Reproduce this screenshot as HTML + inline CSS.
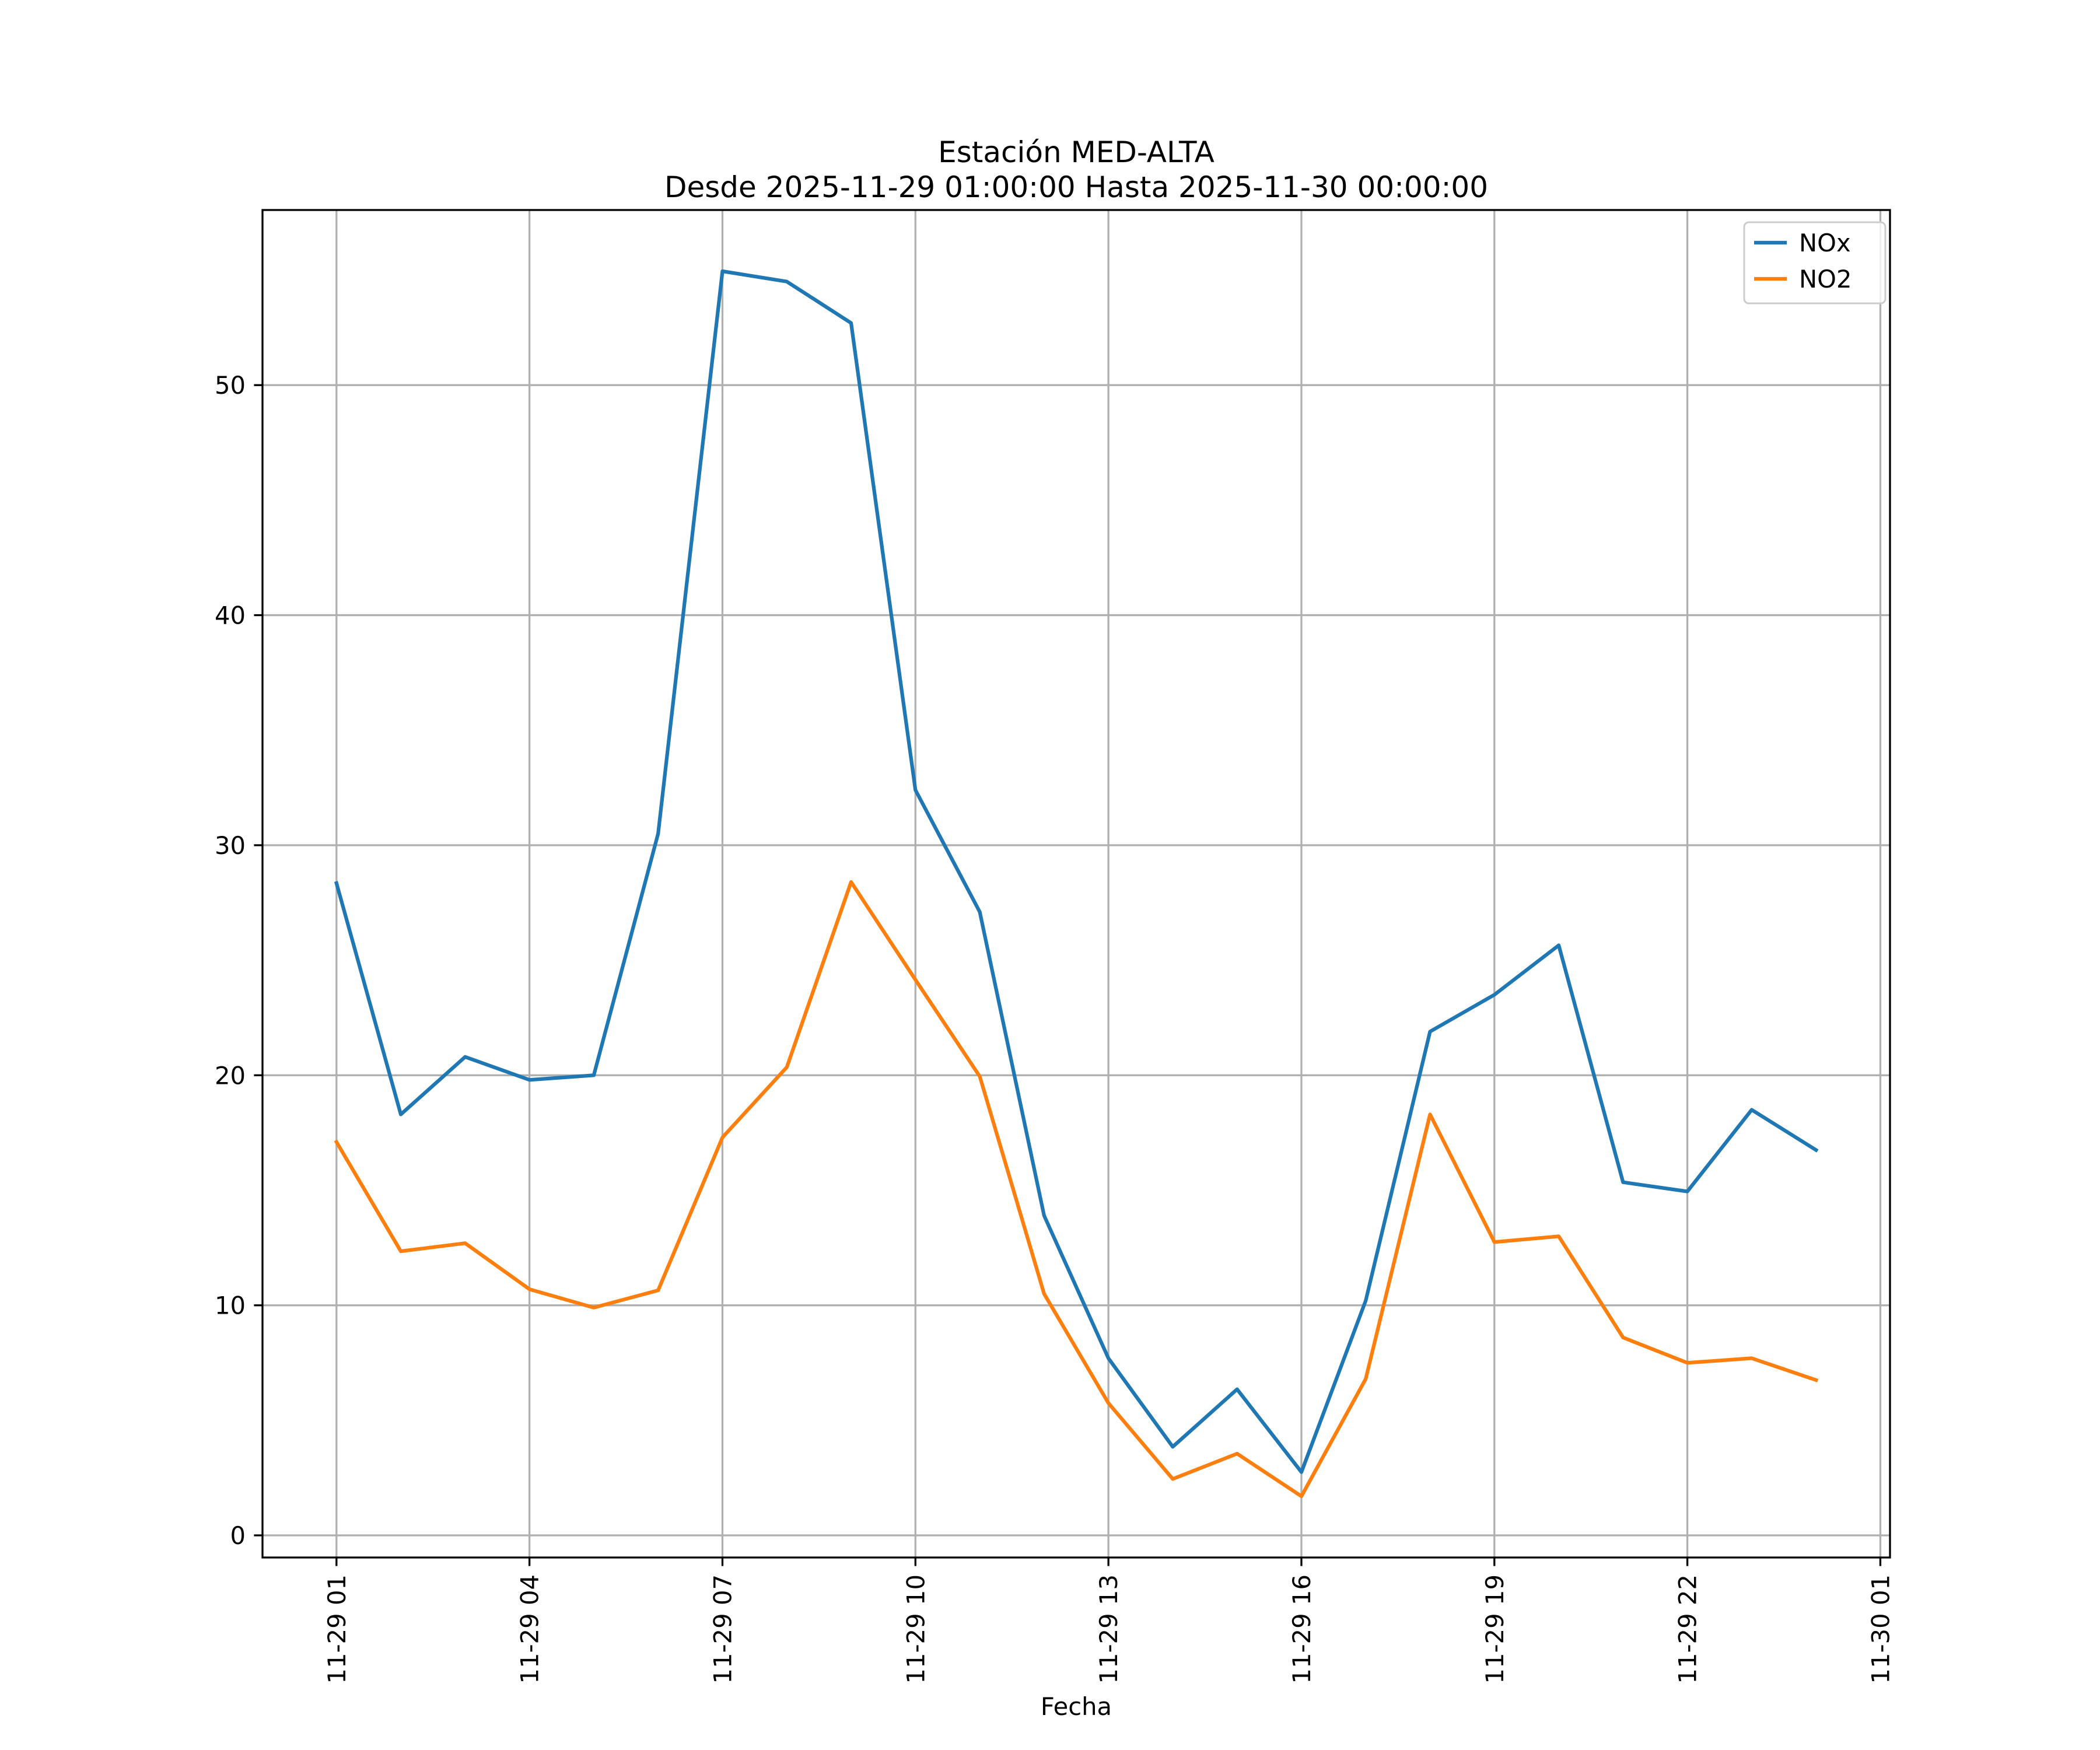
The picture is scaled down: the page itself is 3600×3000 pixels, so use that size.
<!DOCTYPE html>
<html><head><meta charset="utf-8"><style>
html,body{margin:0;padding:0;background:#fff}
svg{display:block;font-family:"DejaVu Sans","Liberation Sans",sans-serif}
</style></head><body>
<svg id="chart" width="3600" height="3000" viewBox="0 0 3600 3000" xmlns="http://www.w3.org/2000/svg">
<rect width="3600" height="3000" fill="#fff"/>
<text x="1845" y="278" font-size="50" text-anchor="middle">Estación MED-ALTA</text>
<text x="1845" y="338" font-size="50" text-anchor="middle">Desde 2025-11-29 01:00:00 Hasta 2025-11-30 00:00:00</text>
<g id="grid"></g>
<g id="series"></g>
<rect x="450" y="360" width="2790" height="2310" fill="none" stroke="#000" stroke-width="3.3"/>
<g id="ticks"></g>
<text x="1845" y="2940" font-size="41.7" text-anchor="middle">Fecha</text>
<g>
<rect x="2990" y="381" width="242" height="139" rx="8" fill="#fff" fill-opacity="0.8" stroke="#ccc" stroke-width="3"/>
<line x1="3007" y1="416" x2="3063" y2="416" stroke="#1f77b4" stroke-width="6.25"/>
<text x="3084" y="431" font-size="41.7">NOx</text>
<line x1="3007" y1="478" x2="3063" y2="478" stroke="#ff7f0e" stroke-width="6.25"/>
<text x="3084" y="493" font-size="41.7">NO2</text>
</g>
</svg>
<script>
const hours = [1,2,3,4,5,6,7,8,9,10,11,12,13,14,15,16,17,18,19,20,21,22,23,24];
const noxValues = [28.35,18.3,20.8,19.8,20.0,30.5,54.95,54.5,52.7,32.4,27.1,13.9,7.7,3.85,6.35,2.75,10.2,21.9,23.5,25.65,15.35,14.95,18.5,16.75];
const no2Values = [17.1,12.35,12.7,10.7,9.9,10.65,17.3,20.35,28.4,24.15,19.95,10.5,5.75,2.45,3.55,1.7,6.8,18.3,12.75,13.0,8.6,7.5,7.7,6.75];
const xTickHours = [1,4,7,10,13,16,19,22,25];
const xTickLabels = ["11-29 01","11-29 04","11-29 07","11-29 10","11-29 13","11-29 16","11-29 19","11-29 22","11-30 01"];
const yTicks = [0,10,20,30,40,50];

const NS = "http://www.w3.org/2000/svg";
const L=450,R=3240,T=360,B=2670;
const allV = noxValues.concat(no2Values);
const vmin=Math.min(...allV), vmax=Math.max(...allV), vr=vmax-vmin;
const y0=vmin-0.05*vr, y1=vmax+0.05*vr;
const h0=hours[0], h1=hours[hours.length-1], hr=h1-h0;
const x0=h0-0.05*hr, x1=h1+0.05*hr;
const xs = h => L+(h-x0)/(x1-x0)*(R-L);
const ys = v => B-(v-y0)/(y1-y0)*(B-T);
function mk(tag, attrs, parent){const e=document.createElementNS(NS,tag);for(const k in attrs)e.setAttribute(k,attrs[k]);parent.appendChild(e);return e;}
const grid=document.getElementById('grid'), ticks=document.getElementById('ticks'), series=document.getElementById('series');
xTickHours.forEach((h,i)=>{
  const x=xs(h);
  const g=mk('line',{x1:x,y1:T,x2:x,y2:B,stroke:'#b0b0b0','stroke-width':3.3},grid);
  
  
  const t=mk('line',{x1:x,y1:B,x2:x,y2:B+14.6,stroke:'#000','stroke-width':3.3},ticks);
  
  
  const lb=mk('text',{x:0,y:0,'font-size':41.7,'text-anchor':'end',transform:`translate(${x+15},${B+29}) rotate(-90)`},ticks);
  lb.textContent=xTickLabels[i];
  
  
});
yTicks.forEach(v=>{
  const y=ys(v);
  const g=mk('line',{x1:L,y1:y,x2:R,y2:y,stroke:'#b0b0b0','stroke-width':3.3},grid);
  
  
  const t=mk('line',{x1:L-14.6,y1:y,x2:L,y2:y,stroke:'#000','stroke-width':3.3},ticks);
  
  
  const lb=mk('text',{x:L-29,y:y+15,'font-size':41.7,'text-anchor':'end'},ticks);
  lb.textContent=String(v);
  
  
});
function drawLine(vals,color,name){
  const pts=vals.map((v,i)=>xs(hours[i]).toFixed(1)+','+ys(v).toFixed(1)).join(' ');
  const p=mk('polyline',{points:pts,fill:'none',stroke:color,'stroke-width':6.25,'stroke-linejoin':'round','stroke-linecap':'square'},series);
  
  
}
drawLine(noxValues,'#1f77b4','nox-line');
drawLine(no2Values,'#ff7f0e','no2-line');
</script>
</body></html>
